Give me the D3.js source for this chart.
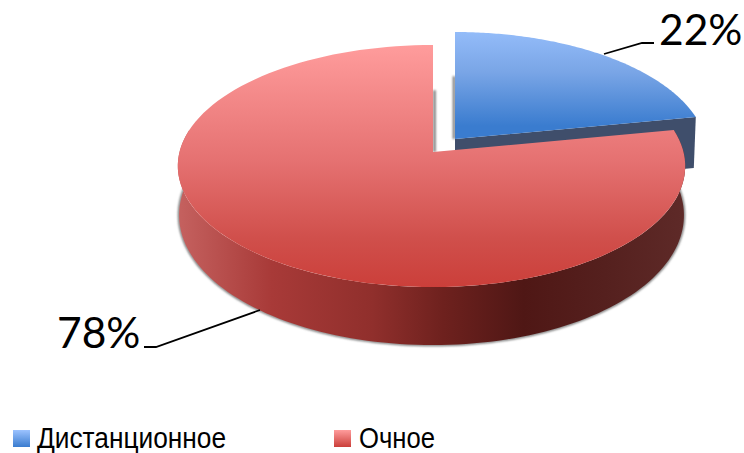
<!DOCTYPE html>
<html>
<head>
<meta charset="utf-8">
<script src="https://cdn.jsdelivr.net/npm/d3@7"></script>
<style>
html, body { margin: 0; padding: 0; background: #fff; overflow: hidden; }
svg { display: block; }
.pct { font-family: Lato, "Open Sans", sans-serif; font-size: 42.5px; fill: #000; }
.legend-label { font-family: "Liberation Sans Narrow", "Liberation Sans", sans-serif; font-size: 30px; fill: #000; }
</style>
</head>
<body>
<div id="chart"></div>
<script>
//data
var categories = ['Дистанционное', 'Очное'],
    shares = [22, 78],
    shareLabels = ['22%', '78%'];

//sizes
var outerW = 744,
    outerH = 453;

//pie geometry, the tilted disc is a circle seen in perspective
var apexX = 433,
    apexY = 152,
    rx = 252,
    ry = 119.4,
    persp = 0.116,
    rimLean = 1.5,
    blueShift = { x: 22, y: -13 },
    blueDepth = 51;

function rimDepth(v) {
    return 48 + 10 * v;
}

//angle (radians from 12 o'clock, clockwise) to screen point on the top face
function project(a, r) {
    var u = Math.sin(a) * r,
        v = -Math.cos(a) * r,
        w = 1 - persp * v;
    return [apexX + rx * u / w - rimLean * Math.abs(u), apexY + ry * v / w];
}

function projectBottom(a) {
    var p = project(a, 1),
        v = -Math.cos(a);
    return [apexX + (p[0] - apexX) * 0.995, p[1] + rimDepth(v)];
}

function arcPoints(fn, a0, a1) {
    var n = 120;
    return d3.range(n + 1).map(function(i) {
        return fn(a0 + (a1 - a0) * i / n);
    });
}

var line = d3.line();

var slices = d3.pie().sort(null)(shares),
    blue = slices[0],
    red = slices[1];

var svg = d3.select('#chart').append('svg')
    .attr('width', outerW)
    .attr('height', outerH);

var defs = svg.append('defs');

function addGradient(id, stops, attrs) {
    var g = defs.append('linearGradient').attr('id', id);
    Object.keys(attrs).forEach(function(k) { g.attr(k, attrs[k]); });
    stops.forEach(function(s) {
        g.append('stop').attr('offset', s[0]).attr('stop-color', s[1]);
    });
}

var redTopStops = [[0, '#ff9c9c'], [0.48, '#e57171'], [0.8, '#d04f4b'], [1, '#cb3f3a']],
    blueTopStops = [[0, '#9cc3ff'], [0.5, '#79a5e6'], [1, '#3a7ccf']];

addGradient('redTop', redTopStops, {
    gradientUnits: 'userSpaceOnUse', x1: 0, x2: 0,
    y1: project(0, 1)[1], y2: project(Math.PI, 1)[1]
});
addGradient('blueTop', blueTopStops, {
    gradientUnits: 'userSpaceOnUse', x1: 0, x2: 0,
    y1: project(0, 1)[1] + blueShift.y, y2: apexY + blueShift.y
});
addGradient('redWall', [
    [0, '#c4605e'], [0.18, '#a83a38'], [0.38, '#902f2c'], [0.52, '#6e211e'],
    [0.68, '#4f1715'], [0.84, '#55201e'], [1, '#5e2a28']
], {
    gradientUnits: 'userSpaceOnUse', y1: 0, y2: 0,
    x1: apexX - rx, x2: apexX + rx
});
addGradient('redSwatch', [[0, '#ff9c9c'], [1, '#cb3f3a']], { x1: 0, x2: 0, y1: 0, y2: 1 });
addGradient('blueSwatch', [[0, '#9cc3ff'], [1, '#3a7ccf']], { x1: 0, x2: 0, y1: 0, y2: 1 });

defs.append('filter').attr('id', 'soft')
    .attr('x', '-10%').attr('y', '-10%').attr('width', '120%').attr('height', '120%')
    .append('feGaussianBlur').attr('stdDeviation', 1.2);

//soft shadows
var shadows = svg.append('g').attr('filter', 'url(#soft)')
    .attr('fill', 'none').attr('stroke', '#777').attr('stroke-width', 2.5);

shadows.append('path')
    .attr('d', line(arcPoints(projectBottom, Math.PI * 0.44, Math.PI * 1.56)));

//gap shadows beside the cut edges
var redCut = project(0, 0.55);
shadows.append('path')
    .attr('d', line([[apexX + 1.5, redCut[1]], [apexX + 1.5, apexY]]));

var blueCut = project(0, 0.56);
shadows.append('path')
    .attr('d', line([[apexX + blueShift.x - 1, blueCut[1] + blueShift.y], [apexX + blueShift.x - 1, apexY + blueShift.y]]));

//blue slice
var blueEnd = project(blue.endAngle, 1),
    blueG = svg.append('g')
        .attr('transform', 'translate(' + blueShift.x + ',' + blueShift.y + ')');

blueG.append('path')
    .attr('d', line([
        [apexX, apexY],
        blueEnd,
        [blueEnd[0] - 2, blueEnd[1] + blueDepth],
        [apexX, apexY + blueDepth]
    ]) + 'Z')
    .attr('fill', '#3f4e6b');

blueG.append('path')
    .attr('d', line([[apexX, apexY]].concat(arcPoints(function(a) {
        return project(a, 1);
    }, blue.startAngle, blue.endAngle))) + 'Z')
    .attr('fill', 'url(#blueTop)');

//red slice, wall then top face
var wallA0 = Math.PI * 0.44,
    wallA1 = Math.PI * 1.56;

svg.append('path')
    .attr('d', line(arcPoints(function(a) { return project(a, 1); }, wallA0, wallA1)
        .concat(arcPoints(projectBottom, wallA1, wallA0))) + 'Z')
    .attr('fill', 'url(#redWall)');

svg.append('path')
    .attr('d', line([[apexX, apexY]].concat(arcPoints(function(a) {
        return project(a, 1);
    }, red.startAngle, red.endAngle))) + 'Z')
    .attr('fill', 'url(#redTop)');

//leader lines
var leaders = [
    [[604, 54], [642, 43], [654, 43]],
    [[260, 310], [156, 347], [144, 347]]
];

svg.selectAll('.leader')
    .data(leaders)
    .enter()
    .append('path')
    .attr('class', 'leader')
    .attr('d', function(d) { return line(d); })
    .attr('fill', 'none')
    .attr('stroke', '#000')
    .attr('stroke-width', 1.8);

svg.append('text').attr('class', 'pct')
    .attr('x', 659).attr('y', 45).text(shareLabels[0]);
svg.append('text').attr('class', 'pct')
    .attr('x', 57).attr('y', 348).text(shareLabels[1]);

//legend
var legendX = [13, 334],
    labelX = [37, 359],
    labelW = [189, 76],
    swatches = ['url(#blueSwatch)', 'url(#redSwatch)'];

categories.forEach(function(c, i) {
    svg.append('rect')
        .attr('x', legendX[i])
        .attr('y', 430)
        .attr('width', 17)
        .attr('height', 17)
        .attr('fill', swatches[i]);

    svg.append('text')
        .attr('class', 'legend-label')
        .attr('x', labelX[i])
        .attr('y', 448)
        .attr('textLength', labelW[i])
        .attr('lengthAdjust', 'spacingAndGlyphs')
        .text(c);
});
</script>
</body>
</html>
